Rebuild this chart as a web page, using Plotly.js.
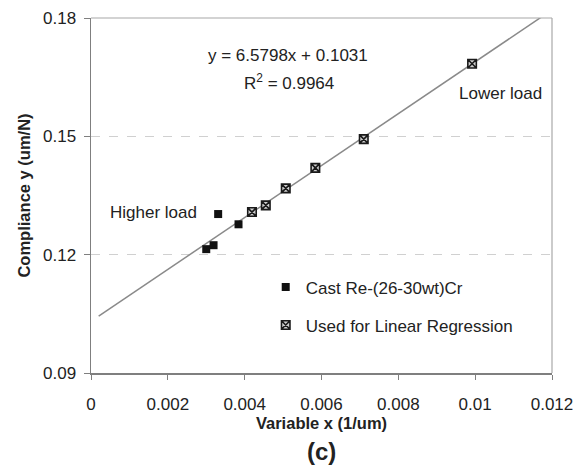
<!DOCTYPE html>
<html>
<head>
<meta charset="utf-8">
<script src="https://cdn.plot.ly/plotly-3.0.1.min.js"></script>
<style>
html,body{margin:0;padding:0;background:#fff;}
#chart{width:576px;height:467px;}
</style>
</head>
<body>
<div id="chart"></div>
<script>
// Cast Re-(26-30wt)Cr points (black squares)
var castX = [0.00300, 0.00319, 0.00331, 0.00384];
var castY = [0.1214, 0.1224, 0.1303, 0.1277];
// Points used for linear regression
var regX = [0.00419, 0.00455, 0.00507, 0.00584, 0.00710, 0.00992];
var regY = [0.1308, 0.1325, 0.1368, 0.1420, 0.1493, 0.1684];
// Trendline parameters (from the chart's equation)
var slope = 6.5798;
var intercept = 0.1031;
var lineX = [0.0002, 0.012];
var lineY = lineX.map(function(v){ return slope * v + intercept; });

var xTickVals = [0, 0.002, 0.004, 0.006, 0.008, 0.01, 0.012];
var xTickText = ['0', '0.002', '0.004', '0.006', '0.008', '0.01', '0.012'];
var yTickVals = [0.09, 0.12, 0.15, 0.18];
var yTickText = ['0.09', '0.12', '0.15', '0.18'];

var font = 'Liberation Sans, Arial, sans-serif';
var textColor = '#222';

var traces = [
  {
    x: lineX, y: lineY, mode: 'lines', type: 'scatter',
    line: {color: '#8a8a8a', width: 1.5},
    showlegend: false, hoverinfo: 'skip'
  },
  {
    x: castX, y: castY, mode: 'markers', type: 'scatter',
    name: 'Cast Re-(26-30wt)Cr', legendgroup: 'a',
    marker: {symbol: 'square', size: 8, color: '#111'}
  },
  {
    x: regX, y: regY, mode: 'markers', type: 'scatter',
    name: 'Used for Linear Regression', legendgroup: 'b',
    marker: {symbol: 'square-x', size: 8.5, color: '#cfcfcf', line: {color: '#1a1a1a', width: 1.6}}
  }
];

var layout = {
  width: 576, height: 467,
  margin: {l: 91, r: 24, t: 18, b: 94},
  paper_bgcolor: '#fff', plot_bgcolor: '#fff',
  font: {family: font, size: 17, color: textColor},
  showlegend: true,
  legend: {
    x: 0.379, y: 0.292, xanchor: 'left', yanchor: 'top',
    bgcolor: 'rgba(0,0,0,0)', font: {family: font, size: 17, color: textColor},
    tracegroupgap: 13, itemwidth: 30
  },
  xaxis: {
    range: [0, 0.012], tickvals: xTickVals, ticktext: xTickText,
    showgrid: false, zeroline: false,
    showline: true, linecolor: '#7f7f7f', linewidth: 1.5,
    ticks: 'outside', ticklen: 5, tickcolor: '#7f7f7f', tickwidth: 1,
    ticklabelstandoff: 10,
    tickfont: {family: font, size: 17, color: textColor},
    title: {text: '<b>Variable x (1/um)</b>', font: {family: font, size: 16.5, color: textColor}, standoff: 3}
  },
  yaxis: {
    range: [0.09, 0.18], tickvals: yTickVals, ticktext: yTickText,
    showgrid: true, gridcolor: '#d0d0d0', griddash: 'dash', gridwidth: 1,
    zeroline: false,
    showline: true, linecolor: '#7f7f7f', linewidth: 1.5,
    ticks: 'outside', ticklen: 6, tickcolor: '#7f7f7f', tickwidth: 1,
    ticklabelstandoff: 4,
    tickfont: {family: font, size: 17, color: textColor},
    title: {text: '<b>Compliance y (um/N)</b>', font: {family: font, size: 16.5, color: textColor}, standoff: 8}
  },
  shapes: [
    {type: 'line', xref: 'paper', yref: 'paper', x0: 0, x1: 1, y0: 1, y1: 1, line: {color: '#a8a8a8', width: 1.2}},
    {type: 'line', xref: 'paper', yref: 'paper', x0: 1, x1: 1, y0: 0, y1: 1, line: {color: '#a8a8a8', width: 1.2}}
  ],
  annotations: [
    {text: 'y = 6.5798x + 0.1031', x: 0.00512, y: 0.1705, xref: 'x', yref: 'y', showarrow: false, font: {family: font, size: 17, color: textColor}},
    {text: 'R<sup>2</sup> = 0.9964', x: 0.00515, y: 0.1638, xref: 'x', yref: 'y', showarrow: false, font: {family: font, size: 17, color: textColor}},
    {text: 'Higher load', x: 0.00280, y: 0.1307, xref: 'x', yref: 'y', xanchor: 'right', showarrow: false, font: {family: font, size: 17, color: textColor}},
    {text: 'Lower load', x: 0.01180, y: 0.1608, xref: 'x', yref: 'y', xanchor: 'right', showarrow: false, font: {family: font, size: 17, color: textColor}},
    {text: '<b>(c)</b>', x: 0.5, y: -0.222, xref: 'paper', yref: 'paper', yanchor: 'middle', showarrow: false, font: {family: font, size: 24, color: textColor}}
  ]
};

Plotly.newPlot('chart', traces, layout, {displayModeBar: false, staticPlot: true});
</script>
</body>
</html>
